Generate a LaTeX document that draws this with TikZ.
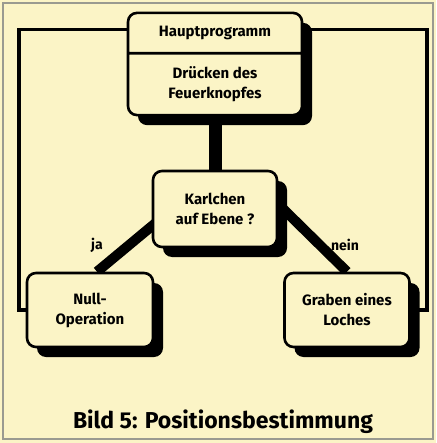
\documentclass[tikz,border=0pt]{standalone}
\usepackage{fontspec}
\setmainfont{Fira Sans}
\usetikzlibrary{shapes.multipart,shadows,backgrounds}
\definecolor{paper}{HTML}{FBF4C6}
\definecolor{framegray}{HTML}{9A9A90}
\tikzset{
  flowbox/.style={draw,rounded corners=9pt,line width=2.6pt,align=center,fill=paper,font=\bfseries\fontsize{15}{20}\selectfont,
    drop shadow={shadow xshift=10pt,shadow yshift=-10pt,fill=black,opacity=1}},
  flowsplit/.style={flowbox,rectangle split,rectangle split parts=2,inner ysep=12pt},
  flowbar/.style={line width=13pt},
  flowdiag/.style={line width=10pt},
  loopline/.style={line width=3.5pt},
  flowlabel/.style={font=\bfseries\fontsize{14}{16}\selectfont}
}

\begin{document}
\begin{tikzpicture}[x=1pt,y=-1pt]
  \useasboundingbox (0,0) rectangle (436,443);
  \node[flowsplit,minimum width=174pt] (haupt) at (215,64) {Hauptprogramm\nodepart{two}Drücken des\\Feuerknopfes};
  \node[flowbox,minimum width=124pt,minimum height=76pt] (karl) at (215,209) {Karlchen\\auf Ebene ?};
  \node[flowbox,minimum width=126pt,minimum height=74pt] (null) at (90,310) {Null-\\Operation};
  \node[flowbox,minimum width=125pt,minimum height=74pt] (graben) at (347,310) {Graben eines\\Loches};

  \node[flowlabel] (ja) at (97,245) {ja};
  \node[flowlabel] (nein) at (345,245) {nein};
  \node[font=\bfseries\fontsize{23}{26}\selectfont] (titel) at (223,422) {Bild 5: Positionsbestimmung};

  \coordinate (lcorner) at (19,310);
  \coordinate (rcorner) at (427,310);

  \begin{scope}[on background layer]
    \fill[paper] (0,0) rectangle (436,443);
    \draw[framegray,line width=1.5pt] (3,3) rectangle (433,439);
    \draw[loopline] ([yshift=-18pt]haupt.north west) -| (lcorner) -- (null.west);
    \draw[loopline] ([yshift=-18pt]haupt.north east) -| (rcorner) -- (graben.east);
    \draw[flowbar] (haupt.south) -- (karl.north);
    \draw[flowdiag] ([xshift=7pt]null.north) -- ([shift={(-45,2)}]karl.center);
    \draw[flowdiag] (graben.north) -- ([shift={(55,-13)}]karl.center);
  \end{scope}
\end{tikzpicture}
\end{document}
